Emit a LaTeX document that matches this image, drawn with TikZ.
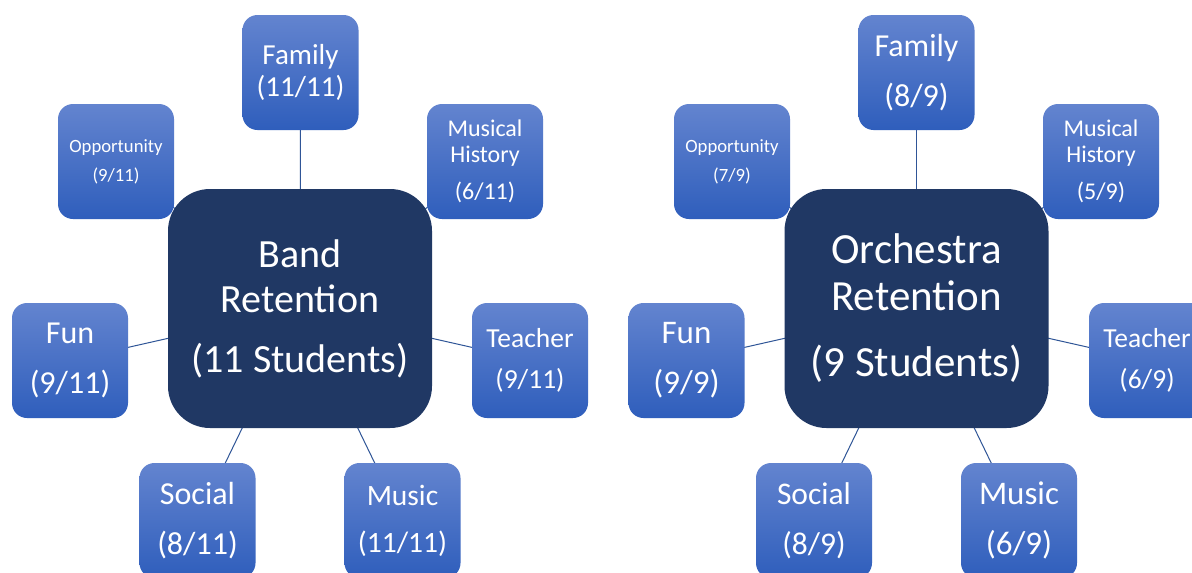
\documentclass[tikz,border=0pt]{standalone}
\usepackage{fontspec}
\setmainfont{Carlito}
\pgfdeclarelayer{bg}
\pgfsetlayers{bg,main}
\definecolor{coreblue}{HTML}{203864}
\definecolor{topblue}{HTML}{6384CF}
\definecolor{botblue}{HTML}{2F5EBC}
\definecolor{linkblue}{HTML}{2F5597}
\tikzset{
  sub/.style={rectangle, rounded corners=15pt, minimum width=116pt, minimum height=115pt,
    inner sep=0pt, top color=topblue, bottom color=botblue, text=white, align=center},
  core/.style={rectangle, rounded corners=42pt, minimum width=264pt, minimum height=239pt,
    inner sep=0pt, fill=coreblue, text=white, align=center},
  link/.style={draw=linkblue, line width=1pt}
}
\newcommand{\fs}[2]{\fontsize{#1}{#2}\selectfont}
\begin{document}
\begin{tikzpicture}[x=1pt,y=-1pt]
\path[use as bounding box, clip] (0,0) rectangle (1192,573);
% ---- Band ----
\node[core, font=\fs{40}{45}] (bc) at (300,308.5) {Band\\Retention\\[15pt](11 Students)};
\node[sub, font=\fs{29}{32}] (bf) at (300.5,72.5) {Family\\(11/11)};
\node[sub, font=\fs{18.7}{29}] (bo) at (116,161.5) {Opportunity\\(9/11)};
\node[sub, font=\fs{24}{26}] (bm) at (485,161.5) {Musical\\History\\[11pt](6/11)};
\node[sub, font=\fs{32}{50}] (bu) at (70,360.5) {Fun\\(9/11)};
\node[sub, font=\fs{27.5}{41}] (bt) at (530,360.5) {Teacher\\(9/11)};
\node[sub, font=\fs{32}{50}] (bs) at (197.5,520.5) {Social\\(8/11)};
\node[sub, font=\fs{29.5}{47}] (bk) at (402.5,520.5) {Music\\(11/11)};
% ---- Orchestra ----
\node[core, font=\fs{43}{47}] (oc) at (916.5,308.5) {Orchestra\\Retention\\[19pt](9 Students)};
\node[sub, font=\fs{32}{50}] (of) at (916.5,72.5) {Family\\(8/9)};
\node[sub, font=\fs{18.7}{29}] (oo) at (732,161.5) {Opportunity\\(7/9)};
\node[sub, font=\fs{24}{26}] (om) at (1101,161.5) {Musical\\History\\[11pt](5/9)};
\node[sub, font=\fs{33}{50}] (ou) at (686.5,360.5) {Fun\\(9/9)};
\node[sub, font=\fs{27.5}{41}] (ot) at (1147,360.5) {Teacher\\(6/9)};
\node[sub, font=\fs{31.5}{50}] (os) at (814,520.5) {Social\\(8/9)};
\node[sub, font=\fs{33}{50}] (ok) at (1019,520.5) {Music\\(6/9)};
\begin{pgfonlayer}{bg}
\fill[white] (0,0) rectangle (1192,573);
\foreach \c/\s in {bc/bf,bc/bo,bc/bm,bc/bu,bc/bt,bc/bs,bc/bk,oc/of,oc/oo,oc/om,oc/ou,oc/ot,oc/os,oc/ok}
  \draw[link] (\c.center) -- (\s.center);
\end{pgfonlayer}
\end{tikzpicture}
\end{document}
